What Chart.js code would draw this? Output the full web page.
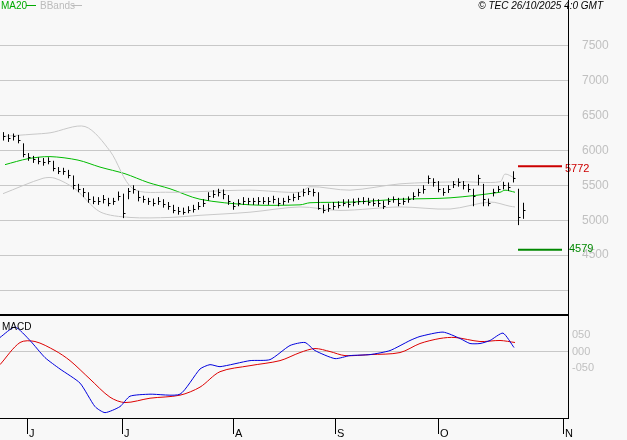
<!DOCTYPE html>
<html><head><meta charset="utf-8">
<script src="https://cdn.jsdelivr.net/npm/chart.js@4"></script>
<style>
body{margin:0;background:#f8f8f8;width:627px;height:440px;overflow:hidden;font-family:Arial,"Liberation Sans",sans-serif}
canvas{position:absolute;left:0}
#priceChart{top:0}
#macdChart{top:316px}
</style></head><body>
<canvas id="priceChart" width="627" height="316"></canvas>
<canvas id="macdChart" width="627" height="124"></canvas>
<script>
// daily bars, index 0 = early June
const closes = [6200,6180,6200,6150,5950,5900,5870,5850,5830,5850,5750,5700,5700,5650,5500,5450,5400,
  5300,5280,5270,5300,5250,5270,5350,5100,5420,5450,5330,5300,5270,5250,5270,5230,5200,
  5150,5130,5120,5150,5160,5200,5250,5350,5380,5400,5380,5280,5200,5250,5280,5270,5270,
  5270,5280,5270,5300,5250,5270,5300,5330,5350,5400,5420,5400,5180,5150,5180,5200,5220,5250,5230,5260,
  5270,5280,5260,5250,5240,5200,5280,5300,5250,5270,5300,5350,5400,5450,5600,5550,5450,5400,5450,
  5520,5550,5500,5450,5350,5600,5300,5250,5400,5450,5500,5480,5600,5050,5150];
const highs = [6260,6230,6240,6220,6100,5960,5920,5900,5890,5900,5850,5760,5750,5720,5640,5520,5460,
  5400,5340,5330,5360,5320,5320,5410,5380,5460,5500,5420,5350,5320,5310,5330,5300,5260,
  5220,5190,5180,5200,5220,5260,5300,5400,5430,5450,5440,5360,5260,5300,5330,5320,5320,
  5330,5330,5330,5350,5320,5320,5350,5380,5400,5450,5460,5450,5400,5220,5240,5260,5270,5300,5300,5310,
  5320,5330,5320,5310,5300,5280,5320,5340,5320,5320,5340,5400,5450,5500,5640,5600,5560,5460,5500,
  5560,5600,5560,5520,5450,5650,5520,5310,5450,5490,5550,5540,5700,5450,5250];
const lows = [6140,6120,6140,6100,5900,5850,5820,5800,5780,5800,5700,5660,5650,5600,5440,5400,5330,
  5250,5230,5220,5240,5200,5220,5280,5030,5300,5380,5270,5250,5220,5200,5220,5180,5150,
  5100,5080,5080,5100,5110,5150,5190,5280,5320,5340,5300,5220,5150,5200,5220,5220,5220,
  5220,5230,5220,5240,5200,5220,5250,5270,5290,5340,5360,5340,5150,5100,5120,5150,5170,5200,5180,5200,
  5220,5230,5210,5200,5190,5160,5220,5250,5200,5220,5250,5290,5340,5380,5520,5480,5400,5350,5390,
  5460,5480,5440,5400,5200,5500,5200,5200,5340,5400,5440,5420,5540,4930,5020];

// moving average and Bollinger bands, read every few bars (index, value)
const maIdx   = [0.4,5,9.4,15,19.4,24.4,29,33.4,39.4,49.4,59.4,61.4,70,79.4,89.4,99.4,100.4,102.4];
const maVals  = [5795,5880,5910,5860,5760,5665,5540,5450,5300,5220,5220,5250,5260,5300,5320,5400,5430,5400];
const upIdx   = [0,6,9.4,16.4,21.4,26,33.4,39.4,49.4,59.4,61.4,69.4,79.4,91.4,99.4,100.4,102.4];
const upVals  = [6200,6230,6250,6340,5990,5450,5400,5410,5430,5400,5480,5430,5520,5550,5550,5660,5600];
const loIdx   = [0,8,10.4,14.4,19.4,25.4,33.4,39.4,49.4,59.4,67.4,79.4,89.4,97.4,101.4,102.4];
const loVals  = [5380,5600,5600,5450,5120,5040,5040,5070,5115,5190,5140,5190,5160,5260,5200,5190];

// MACD line and signal
const macdIdx  = [-0.6,2.4,5.4,8.4,11.4,15.4,18.4,20.4,23.4,25.4,29.4,35.4,39.4,41.4,43.4,49.4,53.4,57.4,60.4,62.4,66.4,69.4,73.4,77.4,81.4,83.4,88,91.4,93.4,95.4,97.4,100,102.2];
const macdVals = [0.42,0.73,0.33,-0.18,-0.52,-0.94,-1.64,-1.82,-1.64,-1.33,-1.27,-1.27,-0.52,-0.39,-0.45,-0.27,-0.24,0.18,0.27,0.03,-0.21,-0.12,-0.09,0.03,0.33,0.45,0.58,0.39,0.24,0.24,0.33,0.55,0.12];
const sigIdx   = [-0.6,3.4,6.4,10.4,13.4,17.4,21.4,24.4,29.4,35.4,39.4,43.4,49.4,55.4,59.4,62.4,65.4,68.4,73.4,79.4,83.4,87.4,90.4,95.4,99.4,102.4];
const sigVals  = [-0.39,0.27,0.3,0.03,-0.27,-0.82,-1.36,-1.52,-1.39,-1.3,-1.06,-0.6,-0.42,-0.27,-0.03,0.09,0,-0.12,-0.09,-0.03,0.24,0.39,0.42,0.3,0.33,0.27];

const monthIdx = [4.8,23.8,46,66.4,87,112];
const monthLabels = ['J','J','A','S','O','N'];
const priceTicks = [4000,4500,5000,5500,6000,6500,7000,7500];
const resistance = 5772, support = 4579;
const refFrom = 103, refTo = 111.8;

const pts = (xs, ys) => xs.map((x, i) => ({x: x, y: ys[i]}));
const X_MIN = -0.6, X_MAX = 113;

// fixed axis width, and no extra vertical padding for the tick labels
const fixedWidth = { afterFit(s) { s.width = 59; s.paddingTop = 0; s.paddingBottom = 0; } };

const ohlcPlugin = {
  id: 'ohlc',
  afterDatasetsDraw(chart) {
    const c = chart.ctx, xs = chart.scales.x, ys = chart.scales.y;
    c.save();
    c.strokeStyle = '#000'; c.lineWidth = 1;
    closes.forEach((cl, i) => {
      const px = Math.round(xs.getPixelForValue(i)) + 0.5;
      c.beginPath();
      c.moveTo(px, ys.getPixelForValue(highs[i]));
      c.lineTo(px, ys.getPixelForValue(lows[i]));
      const cy = Math.round(ys.getPixelForValue(cl)) + 0.5;
      c.moveTo(px, cy); c.lineTo(px + 2, cy);
      c.stroke();
    });
    // reference labels
    c.font = '11px Arial';
    c.textBaseline = 'middle';
    c.fillStyle = '#cc0000';
    c.fillText(String(resistance), 565, ys.getPixelForValue(resistance) + 3);
    c.fillStyle = '#008800';
    c.fillText(String(support), 569, ys.getPixelForValue(support) - 1);
    // legend and stamp
    c.font = '10px Arial';
    c.fillStyle = '#00aa00'; c.fillText('MA20', 1, 6);
    c.fillRect(26, 5, 10, 1);
    c.fillStyle = '#bbbbbb'; c.fillText('BBands', 40, 6);
    c.fillRect(72, 5, 10, 1);
    c.fillStyle = '#000'; c.font = 'italic 10px Arial';
    c.textAlign = 'right';
    c.fillText('\u00a9 TEC 26/10/2025 4:0 GMT', 603, 6);
    // frame
    c.strokeStyle = '#000';
    c.beginPath();
    c.moveTo(568.5, 0); c.lineTo(568.5, 316);
    c.moveTo(0, 314.5); c.lineTo(568, 314.5);
    c.moveTo(0, 315.5); c.lineTo(568, 315.5);
    c.stroke();
    c.restore();
  }
};

new Chart(document.getElementById('priceChart'), {
  type: 'line',
  data: { datasets: [
    { data: pts(upIdx, upVals), borderColor: '#c8c8c8', borderWidth: 1, pointRadius: 0, tension: 0.3 },
    { data: pts(loIdx, loVals), borderColor: '#c8c8c8', borderWidth: 1, pointRadius: 0, tension: 0.3 },
    { data: pts(maIdx, maVals), borderColor: '#00bb00', borderWidth: 1, pointRadius: 0, tension: 0.3 },
    { data: [{x: refFrom, y: resistance}, {x: refTo, y: resistance}], borderColor: '#cc0000', borderWidth: 2, pointRadius: 0 },
    { data: [{x: refFrom, y: support}, {x: refTo, y: support}], borderColor: '#008800', borderWidth: 2, pointRadius: 0 }
  ]},
  options: {
    responsive: false, animation: false, devicePixelRatio: 1,
    layout: { padding: 0 },
    plugins: { legend: { display: false }, tooltip: { enabled: false } },
    scales: {
      x: { type: 'linear', min: X_MIN, max: X_MAX, display: false },
      y: {
        position: 'right', min: 3630, max: 8150, ...fixedWidth,
        border: { display: false },
        grid: { color: '#c8c8c8', drawTicks: false },
        afterBuildTicks(s) { s.ticks = priceTicks.map(v => ({value: v})); },
        ticks: { color: '#c0c0c0', font: { size: 12 }, padding: 14,
          callback: v => v === 4000 ? '' : v }
      }
    }
  },
  plugins: [ohlcPlugin]
});

const macdPlugin = {
  id: 'macdFrame',
  afterDraw(chart) {
    const c = chart.ctx;
    c.save();
    c.fillStyle = '#000'; c.font = '10px Arial';
    c.fillText('MACD', 2, 14);
    c.strokeStyle = '#000'; c.lineWidth = 1;
    c.beginPath();
    c.moveTo(568.5, 0); c.lineTo(568.5, 103);
    c.moveTo(0, 102.5); c.lineTo(568, 102.5);
    monthIdx.forEach(m => {
      const px = Math.round(chart.scales.x.getPixelForValue(m)) + 0.5;
      c.moveTo(px, 103); c.lineTo(px, 118);
    });
    c.stroke();
    c.font = '11px Arial';
    monthIdx.forEach((m, i) => {
      const px = chart.scales.x.getPixelForValue(m);
      c.fillText(monthLabels[i], px + 2, 121);
    });
    c.restore();
  }
};

new Chart(document.getElementById('macdChart'), {
  type: 'line',
  data: { datasets: [
    { data: pts(macdIdx, macdVals), borderColor: '#0000dd', borderWidth: 1, pointRadius: 0, tension: 0.2 },
    { data: pts(sigIdx, sigVals), borderColor: '#dd0000', borderWidth: 1, pointRadius: 0, tension: 0.3 }
  ]},
  options: {
    responsive: false, animation: false, devicePixelRatio: 1,
    layout: { padding: { bottom: 22 } },
    plugins: { legend: { display: false }, tooltip: { enabled: false } },
    scales: {
      x: { type: 'linear', min: X_MIN, max: X_MAX, display: false },
      y: {
        position: 'right', min: -1.98, max: 1.06, ...fixedWidth,
        border: { display: false },
        grid: { color: ctx => ctx.tick.value === 0 ? '#c8c8c8' : 'transparent', drawTicks: false },
        afterBuildTicks(s) { s.ticks = [-0.5, 0, 0.5].map(v => ({value: v})); },
        ticks: { color: '#c0c0c0', font: { size: 11 }, padding: 4,
          callback: v => v === 0 ? '000' : (v > 0 ? '050' : '-050') }
      }
    }
  },
  plugins: [macdPlugin]
});
</script>
</body></html>
